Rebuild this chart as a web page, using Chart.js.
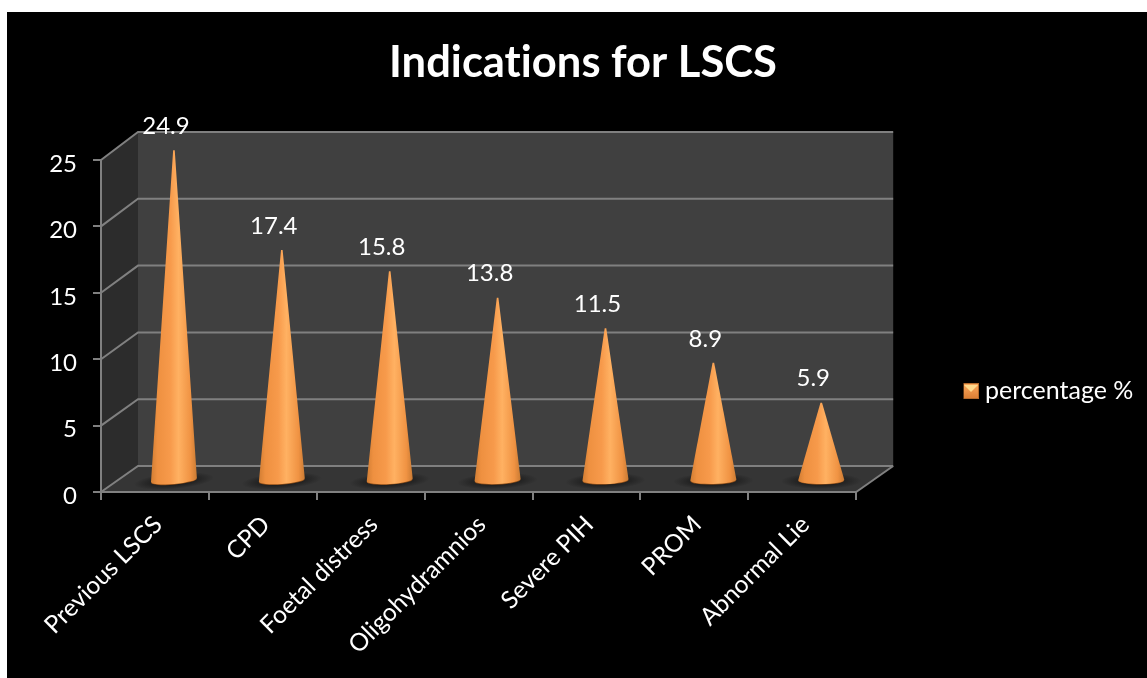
<!DOCTYPE html>
<html>
<head>
<meta charset="utf-8">
<title>Indications for LSCS</title>
<script src="https://cdn.jsdelivr.net/npm/chart.js@4"></script>
<style>
  html, body { margin: 0; background: #fff; overflow: hidden; }
  #lscsChart { position: absolute; left: 7px; top: 12px; background: #000; }
</style>
</head>
<body>
<canvas id="lscsChart" width="1140" height="666"></canvas>
<script>
const categories = ["Previous LSCS", "CPD", "Foetal distress", "Oligohydramnios", "Severe PIH", "PROM", "Abnormal Lie"];
const percentages = [24.9, 17.4, 15.8, 13.8, 11.5, 8.9, 5.9];
const seriesName = "percentage %";
const chartTitle = "Indications for LSCS";
const yMax = 25;
const yStep = 5;

// box depth of the fake 3D frame
const depthX = 37;
const depthY = -26;
const FONT = "Lato, Carlito, sans-serif";
const LINE = "#808080";

// Cone mark: same geometry as a bar, drawn as a shaded cone on the floor
class ConeElement extends Chart.BarElement {
    static id = "cone";

    draw(ctx) {
        const half = this.width / 2;
        const cx = this.x + 19;
        const top = this.y - 11;
        const floor = this.base - 11;
        const ry = 4;
        // base ellipse leans a little more the further left the cone stands
        const tilt = -0.09 * (840 - this.x) / 700;

        // shadow on the floor
        ctx.save();
        ctx.translate(cx, floor + 1);
        ctx.rotate(tilt);
        ctx.scale(1, 0.2);
        const shadow = ctx.createRadialGradient(0, 0, half * 0.5, 0, 0, half * 1.75);
        shadow.addColorStop(0, "rgba(14,14,14,0.8)");
        shadow.addColorStop(1, "rgba(14,14,14,0)");
        ctx.fillStyle = shadow;
        ctx.beginPath();
        ctx.arc(0, 0, half * 1.75, 0, Math.PI * 2);
        ctx.fill();
        ctx.restore();

        const body = ctx.createLinearGradient(cx - half, 0, cx + half, 0);
        body.addColorStop(0, "#d17d33");
        body.addColorStop(0.14, "#ee9040");
        body.addColorStop(0.42, "#f79a4b");
        body.addColorStop(0.6, "#ffb162");
        body.addColorStop(0.86, "#f09343");
        body.addColorStop(1, "#c97a33");

        // dark rim under the base, then the body over it
        ctx.save();
        ctx.fillStyle = "#8a4c18";
        ctx.beginPath();
        ctx.ellipse(cx, floor + 0.7, half, ry, tilt, 0, Math.PI);
        ctx.fill();

        ctx.fillStyle = body;
        ctx.beginPath();
        ctx.moveTo(cx - 0.8, top);
        ctx.lineTo(cx + 0.8, top);
        ctx.ellipse(cx, floor, half, ry, tilt, 0, Math.PI);
        ctx.closePath();
        ctx.fill();
        ctx.restore();
    }
}

class ConeController extends Chart.BarController {
    static id = "cone";
    static defaults = { dataElementType: "cone" };
}

Chart.register(ConeElement, ConeController);

// Back wall, side wall, floor and the gridlines that wrap round them
const frame3d = {
    id: "frame3d",
    beforeDraw(chart) {
        const { ctx, scales } = chart;
        const { left, right, top, bottom } = chart.chartArea;
        // the back wall reads a touch taller than the front edge
        const backY = y => bottom + depthY - (bottom - y) * 1.006;

        // no ti/fi ligatures in any of the text
        ctx.textRendering = "optimizeSpeed";

        ctx.save();
        ctx.fillStyle = "#404040";
        ctx.fillRect(left + depthX, backY(top), right - left, backY(bottom) - backY(top));

        ctx.fillStyle = "#2c2c2c";
        ctx.beginPath();
        ctx.moveTo(left, top);
        ctx.lineTo(left + depthX, backY(top));
        ctx.lineTo(left + depthX, backY(bottom));
        ctx.lineTo(left, bottom);
        ctx.closePath();
        ctx.fill();

        ctx.fillStyle = "#353535";
        ctx.beginPath();
        ctx.moveTo(left, bottom);
        ctx.lineTo(left + depthX, backY(bottom));
        ctx.lineTo(right + depthX, backY(bottom));
        ctx.lineTo(right, bottom);
        ctx.closePath();
        ctx.fill();

        ctx.strokeStyle = LINE;
        ctx.lineWidth = 2;
        scales.y.ticks.forEach(t => {
            const y = scales.y.getPixelForValue(t.value);
            ctx.beginPath();
            ctx.moveTo(left, y);
            ctx.lineTo(left + depthX, backY(y));
            ctx.lineTo(right + depthX, backY(y));
            ctx.stroke();
        });
        ctx.beginPath();
        ctx.moveTo(right, bottom);
        ctx.lineTo(right + depthX, backY(bottom));
        ctx.stroke();
        ctx.restore();
    }
};

// Value written above each cone tip
const coneValues = {
    id: "coneValues",
    afterDatasetsDraw(chart) {
        const { ctx } = chart;
        ctx.save();
        ctx.fillStyle = "#fff";
        ctx.font = "24px " + FONT;
        ctx.textAlign = "center";
        ctx.textBaseline = "middle";
        chart.getDatasetMeta(0).data.forEach((bar, i) => {
            ctx.fillText(percentages[i].toFixed(1), bar.x + 11, bar.y - 35);
        });
        ctx.restore();
    }
};

// Title and legend sit at fixed spots, independent of the plot padding
const placeBlocks = {
    id: "placeBlocks",
    afterLayout(chart) {
        const legend = chart.legend;
        const title = chart.titleBlock;
        const lw = legend.right - legend.left;
        const lh = legend.bottom - legend.top;
        legend.left = 956.5;
        legend.right = legend.left + lw;
        legend.top = 379 - lh / 2;
        legend.bottom = legend.top + lh;
        title.left = 0;
        title.right = 1152;

        // y labels sit slightly below their tick marks, x labels a bit right of centre
        chart.scales.y.getLabelItems(chart.chartArea).forEach(item => {
            item.options.translation[1] += 4;
        });
        chart.scales.x.getLabelItems(chart.chartArea).forEach(item => {
            item.options.translation[0] += 3;
        });
    }
};

function legendSwatch() {
    const c = document.createElement("canvas");
    c.width = c.height = 16;
    const g = c.getContext("2d");
    g.fillStyle = "#b46a2c";
    g.fillRect(0, 0, 16, 16);
    const fill = g.createLinearGradient(0, 2, 0, 14);
    fill.addColorStop(0, "#f9a55a");
    fill.addColorStop(1, "#dd8238");
    g.fillStyle = fill;
    g.fillRect(1, 1, 14, 14);
    g.fillStyle = "#ffd98c";
    g.beginPath();
    g.moveTo(1, 2);
    g.lineTo(15, 2);
    g.lineTo(8, 9);
    g.closePath();
    g.fill();
    return c;
}

new Chart(document.getElementById("lscsChart"), {
    type: "cone",
    data: {
        labels: categories,
        datasets: [{
            label: seriesName,
            data: percentages,
            categoryPercentage: 1,
            barPercentage: 0.427,
            // the tips rise past the front edge of the top gridline
            clip: false
        }]
    },
    plugins: [frame3d, coneValues, placeBlocks],
    options: {
        responsive: false,
        animation: false,
        events: [],
        layout: { padding: { left: 0, right: 111, top: 0, bottom: 0 } },
        scales: {
            x: {
                afterFit(scale) { scale.height = 186; },
                grid: { drawOnChartArea: false, color: LINE, tickColor: LINE, tickLength: 8, lineWidth: 2 },
                border: { color: LINE, width: 2 },
                ticks: {
                    color: "#fff",
                    font: { family: FONT, size: 24.5 },
                    minRotation: 45,
                    maxRotation: 45,
                    autoSkip: false,
                    padding: 10
                }
            },
            y: {
                min: 0,
                max: yMax,
                afterFit(scale) { scale.width = 94; },
                grid: { drawOnChartArea: false, color: LINE, tickColor: LINE, tickLength: 8, lineWidth: 2 },
                border: { color: LINE, width: 2 },
                ticks: {
                    stepSize: yStep,
                    color: "#fff",
                    font: { family: FONT, size: 24 },
                    padding: 16
                }
            }
        },
        plugins: {
            tooltip: { enabled: false },
            title: {
                display: true,
                text: chartTitle,
                color: "#fff",
                font: { family: FONT, size: 43.5, weight: "bold" },
                padding: { top: 24.4, bottom: 71.4 }
            },
            legend: {
                position: "right",
                labels: {
                    color: "#fff",
                    font: { family: FONT, size: 25 },
                    usePointStyle: true,
                    boxWidth: 3,
                    padding: 6,
                    generateLabels: () => [{
                        text: seriesName,
                        fontColor: "#fff",
                        pointStyle: legendSwatch(),
                        lineWidth: 0,
                        datasetIndex: 0
                    }]
                }
            }
        }
    }
});
</script>
</body>
</html>
